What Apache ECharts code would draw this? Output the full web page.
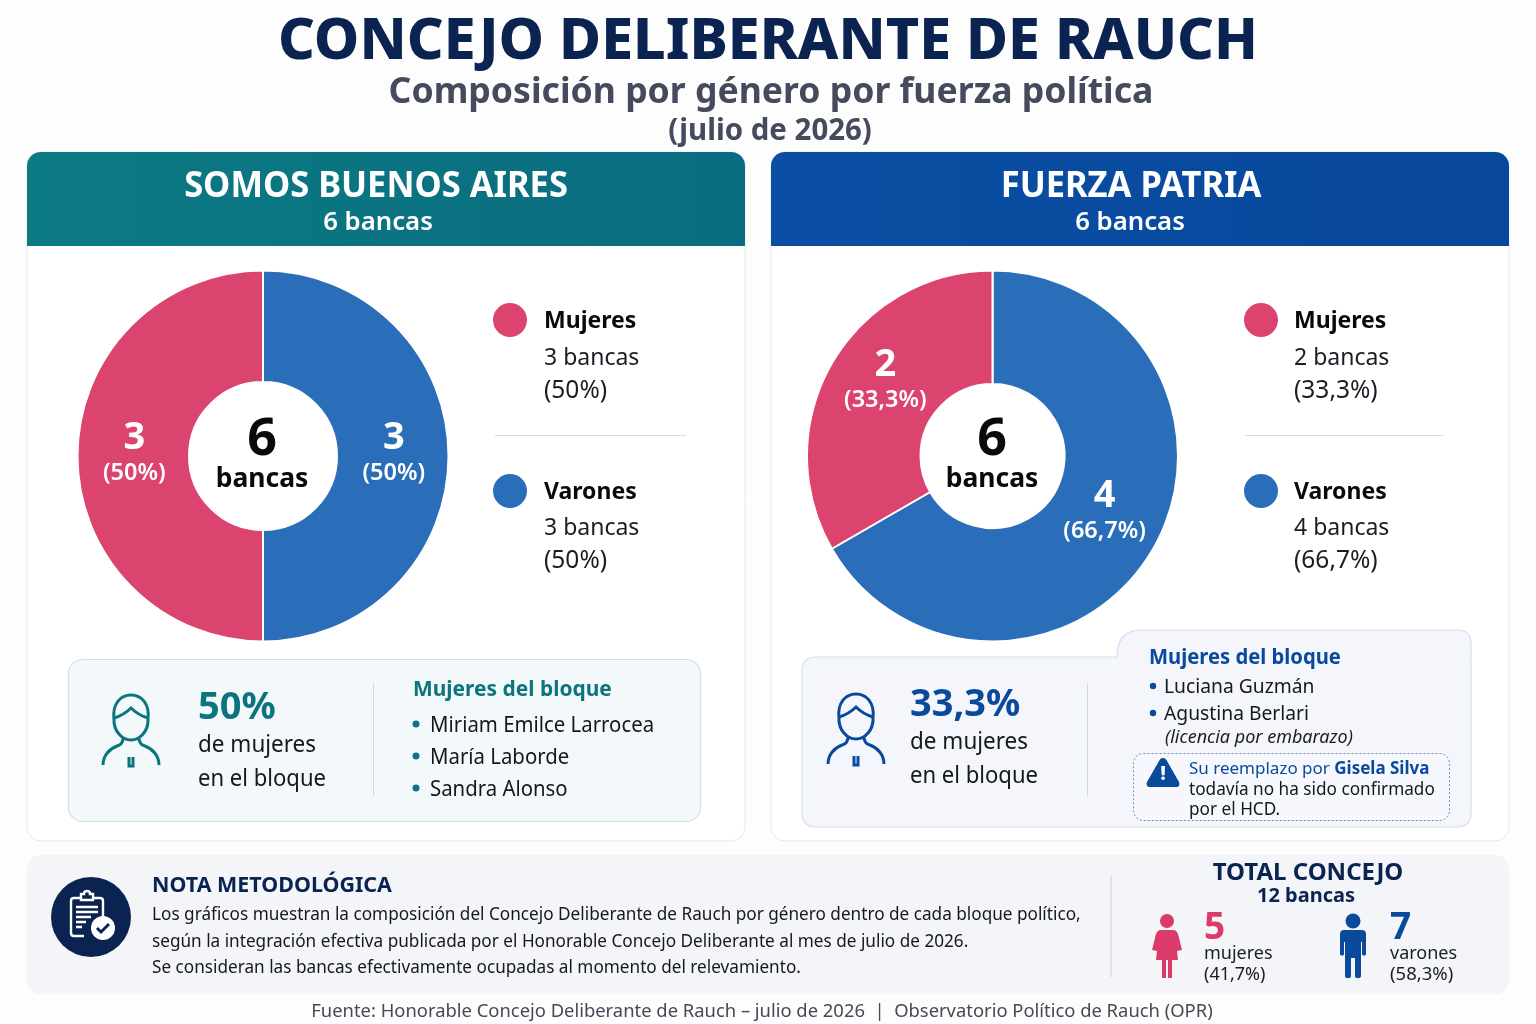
<!DOCTYPE html>
<html><head><meta charset="utf-8">
<style>html,body{margin:0;padding:0;background:#fdfdfe}#c{width:1536px;height:1024px}</style>
<script src="https://cdn.jsdelivr.net/npm/echarts@6/dist/echarts.min.js"></script>
</head><body><div id="c"></div>
<script>
var genders = ['Mujeres', 'Varones'];
var blockNames = ['SOMOS BUENOS AIRES', 'FUERZA PATRIA'];
var blockSeats = [6, 6];
var mujeresSeats = [3, 2];
var varonesSeats = [3, 4];
var mujeresPct = ['50%', '33,3%'];
var varonesPct = ['50%', '66,7%'];
var womenBlock1 = ['Miriam Emilce Larrocea', 'María Laborde', 'Sandra Alonso'];
var womenBlock2 = ['Luciana Guzmán', 'Agustina Berlari'];
var noteLines = [
 'Los gráficos muestran la composición del Concejo Deliberante de Rauch por género dentro de cada bloque político,',
 'según la integración efectiva publicada por el Honorable Concejo Deliberante al mes de julio de 2026.',
 'Se consideran las bancas efectivamente ocupadas al momento del relevamiento.'];
var totalMujeres = 5, totalVarones = 7, totalSeats = 12;
var totalMujeresPct = '41,7%', totalVaronesPct = '58,3%';

var RED='#DC4470', BLUE='#2A6DB8', TEAL='#0B747F', NAVY='#0A4A9C', DARK='#0B2350', INK='#14181f';
var FF='"Noto Sans", sans-serif';
var g=[];
function T(x,y,text,size,color,weight,align,sx,italic){
  g.push({type:'text',silent:true,z:20,x:x,y:y+size*0.08,scaleX:sx||1,scaleY:1,
    style:{x:0,y:0,text:text,fontSize:size,fontFamily:FF,fill:color||INK,fontWeight:weight||400,
      fontStyle:italic?'italic':'normal',textAlign:align||'left',textVerticalAlign:'middle'}});
}
function R(x,y,w,h,r,fill,stroke,lw,extra,z){
  var st={fill:fill,stroke:stroke||null,lineWidth:lw||0};
  if(extra)for(var k in extra)st[k]=extra[k];
  g.push({type:'rect',silent:true,z:z||1,shape:{x:x,y:y,width:w,height:h,r:r},style:st});
}
function C(x,y,r,fill,z){g.push({type:'circle',silent:true,z:z||10,shape:{cx:x,cy:y,r:r},style:{fill:fill}});}
function L(x1,y1,x2,y2,c){g.push({type:'line',silent:true,z:5,shape:{x1:x1,y1:y1,x2:x2,y2:y2},style:{stroke:c,lineWidth:1}});}
var pathCount=0;
function Raw(d,x,y,style,z){
  var name='iconPath'+(pathCount++);
  echarts.graphic.registerShape(name,echarts.graphic.extendPath(d,{}));
  g.push({type:name,silent:true,z:z||12,x:x,y:y,style:style});
}

// Title
T(768,38,'CONCEJO DELIBERANTE DE RAUCH',57.7,DARK,800,'center',0.995);
T(771,90,'Composición por género por fuerza política',36.3,'#454B5C',700,'center',0.98);
T(770,129,'(julio de 2026)',30,'#454B5C',700,'center',0.98);

// Panels
var panels=[{x:27,w:718,c:[{offset:0,color:'#0C7A82'},{offset:1,color:'#0A6C80'}],name:376},
            {x:771,w:738,c:[{offset:0,color:'#0A4FA3'},{offset:1,color:'#07479C'}],name:1131}];
panels.forEach(function(p,i){
  R(p.x,152,p.w,689,14,'#ffffff','#E3E8EE',1);
  g.push({type:'rect',silent:true,z:2,shape:{x:p.x,y:152,width:p.w,height:94,r:[14,14,0,0]},
    style:{fill:{type:'linear',x:0,y:0,x2:1,y2:0,colorStops:p.c}}});
  T(p.name,184,blockNames[i],35,'#fff',700,'center',0.985);
  T(p.name-(i?1:-2),221,blockSeats[i]+' bancas',26,'#fff',600,'center',0.99);
});

// Centres
[[262,blockSeats[0]],[992,blockSeats[1]]].forEach(function(c){
  T(c[0],436,String(c[1]),52,'#0a0a0a',700,'center');
  T(c[0],477,'bancas',26.5,'#0a0a0a',700,'center');
});

// Legends
[[510,544,495,686,0],[1261,1294,1245,1444,1]].forEach(function(a){
  var i=a[4];
  C(a[0],320,17,RED); C(a[0],491,17,BLUE);
  T(a[1],320,genders[0],23,'#0a0a0a',700);
  T(a[1],357,mujeresSeats[i]+' bancas',23,'#1a1d24');
  T(a[1],389,'('+mujeresPct[i]+')',24.5,'#1a1d24');
  L(a[2],435.5,a[3],435.5,'#D8DDE3');
  T(a[1],491,genders[1],23,'#0a0a0a',700);
  T(a[1],527,varonesSeats[i]+' bancas',23,'#1a1d24');
  T(a[1],559,'('+varonesPct[i]+')',24.5,'#1a1d24');
});

// Person outline icon
var PERSON='M-17,-10 C-19,-27 -10,-35 0,-35 C10,-35 19,-27 17,-10 M-17,-12 C-10,-14 -4,-18 0,-22 C4,-18 10,-14 17,-12 M-17,-12 C-18,2 -8,10 0,10 C8,10 18,2 17,-12 M-8,8 C-8,12 -10,15 -14,16 C-22,19 -28,26 -28,35 M8,8 C8,12 10,15 14,16 C22,19 28,26 28,35 M-2,27 L-2,36 L2,36 L2,27';

// Info box left
R(68.5,659.5,632,162,14,'#F3F8FA','#CFE2E8',1.2);
Raw(PERSON,131,730,{fill:null,stroke:TEAL,lineWidth:3});
T(198,705,mujeresPct[0],38,TEAL,700);
T(198,743,'de mujeres',24,INK,400,'left',0.937);
T(198,777,'en el bloque',24,INK,400,'left',0.92);
L(373.5,683,373.5,796,'#CFD9DE');
T(413,688,'Mujeres del bloque',22,TEAL,700,'left',0.952);
womenBlock1.forEach(function(n,i){
  var y=724+i*32; C(416,y,3.5,TEAL); T(430,y,n,22.5,INK,400,'left',0.905);
});

// Info box right
Raw('M14,27 L315,27 Q315,0 339,0 L655,0 Q669,0 669,14 L669,183 Q669,197 655,197 L14,197 Q0,197 0,183 L0,41 Q0,27 14,27 Z',802,630,{fill:'#F4F6FB',stroke:'#D3DFF0',lineWidth:1.2},1);
Raw(PERSON,856,729,{fill:null,stroke:NAVY,lineWidth:3});
T(910,702,mujeresPct[1],38,NAVY,700);
T(910,740,'de mujeres',24,INK,400,'left',0.937);
T(910,774,'en el bloque',24,INK,400,'left',0.92);
L(1087.5,683,1087.5,796,'#CFD9E6');
T(1149,656,'Mujeres del bloque',21.5,NAVY,700,'left',0.94);
womenBlock2.forEach(function(n,i){
  var y=686+i*27; C(1153,y,3.2,NAVY); T(1164,y,n,20.5,INK,400,'left',0.94);
});
T(1165,736,'(licencia por embarazo)',18,'#1a1d24',400,'left',1,true);
R(1133.5,753.5,316,67,10,'#F6F8FD','#6C88B5',1,{lineDash:[2,2]},3);
Raw('M0,-15 C2,-15 3,-14 4,-12 L16,9 C17,12 16,14 13,14 L-13,14 C-16,14 -17,12 -16,9 L-4,-12 C-3,-14 -2,-15 0,-15 Z',1163,773,{fill:NAVY});
T(1163,773,'!',20,'#fff',800,'center');
g.push({type:'text',silent:true,z:20,style:{x:1189,y:769,textVerticalAlign:'middle',
  text:'{a|Su reemplazo por }{b|Gisela Silva}',fontFamily:FF,
  rich:{a:{fontSize:17,fill:NAVY,fontFamily:FF},b:{fontSize:17,fontWeight:700,fill:NAVY,fontFamily:FF}}}});
T(1189,789,'todavía no ha sido confirmado',17.2,INK);
T(1189,809,'por el HCD.',17.2,INK);

// Footer panel
R(27,855,1482,139,14,'#F3F5F9');
C(91,917,40,DARK,5);
Raw('M-13,-19 L-6,-19 M6,-19 L13,-19 C15,-19 16,-18 16,-16 L16,3 M-3,19 L-13,19 C-15,19 -16,18 -16,16 L-16,-16 C-16,-18 -15,-19 -13,-19 M-6,-23 L-3,-23 C-3,-27 3,-27 3,-23 L6,-23 L6,-17 L-6,-17 Z M-11,-10 L11,-10 M-11,-5 L11,-5 M-11,0 L4,0 M-11,5 L-1,5 M-11,10 L-5,10',87,917,{fill:null,stroke:'#fff',lineWidth:2.4});
C(103,928,12,'#fff',13);
Raw('M-6,0 L-2,4 L6,-4',103,928,{fill:null,stroke:DARK,lineWidth:3},15);
T(152,884,'NOTA METODOLÓGICA',22,DARK,700,'left',0.975);
noteLines.forEach(function(s,i){T(152,[913,940,966][i],s,18,'#15181f',400,'left',0.954);});
L(1111,876,1111,977,'#C9CED8');
T(1308,871,'TOTAL CONCEJO',24,DARK,700,'center');
T(1306,895,totalSeats+' bancas',20,DARK,700,'center');

// Female pictogram
C(1167,921,7,'#DB3B6A');
Raw('M-6,-16 L6,-16 C9,-16 10,-14 11,-12 L15,4 L10,5 L11,14 L5,14 L5,32 L1,32 L1,14 L-1,14 L-1,32 L-5,32 L-5,14 L-11,14 L-10,5 L-15,4 L-11,-12 C-10,-14 -9,-16 -6,-16 Z',1167,946,{fill:'#DB3B6A'});
T(1204,925,String(totalMujeres),37,'#DB3B6A',700);
T(1204,952,'mujeres',18,'#1a1d24');
T(1204,973,'('+totalMujeresPct+')',18,'#1a1d24');
// Male pictogram
C(1353,921,7.5,NAVY);
Raw('M-9,-16 L9,-16 C12,-16 13,-14 13,-12 L13,8 C13,10 9,10 9,8 L9,-4 L8,-4 L8,30 C8,33 2,33 2,30 L2,12 L-2,12 L-2,30 C-2,33 -8,33 -8,30 L-8,-4 L-9,-4 L-9,8 C-9,10 -13,10 -13,8 L-13,-12 C-13,-14 -12,-16 -9,-16 Z',1353,946,{fill:NAVY});
T(1390,925,String(totalVarones),37,NAVY,700);
T(1390,952,'varones',18,'#1a1d24');
T(1390,973,'('+totalVaronesPct+')',18.5,'#1a1d24');

T(762,1010,'Fuente: Honorable Concejo Deliberante de Rauch – julio de 2026  |  Observatorio Político de Rauch (OPR)',18.4,'#444A55',400,'center');

// nudges of the in-slice labels, [x,y]: varones then mujeres
var labelNudges=[[[-2,-2],[4,-2]],[[-2,-10],[7,-9]]];
function pie(i,cx){
  return {type:'pie',silent:true,center:[cx,456],radius:[i?72:74,185.5],startAngle:90,clockwise:true,
    animation:false,z:6,
    emphasis:{disabled:true},labelLine:{show:false},
    itemStyle:{borderColor:'#fff',borderWidth:2},
    label:{show:true,position:'inside',
      rich:{n:{fontSize:38,fontWeight:700,color:'#fff',fontFamily:FF,lineHeight:38},
            p:{fontSize:23.5,fontWeight:600,color:'#fff',fontFamily:FF,lineHeight:32}}},
    data:[
      {name:genders[1],value:varonesSeats[i],itemStyle:{color:BLUE},
       label:{offset:labelNudges[i][0],formatter:'{n|'+varonesSeats[i]+'}\n{p|('+varonesPct[i]+')}'}},
      {name:genders[0],value:mujeresSeats[i],itemStyle:{color:RED},
       label:{offset:labelNudges[i][1],formatter:'{n|'+mujeresSeats[i]+'}\n{p|('+mujeresPct[i]+')}'}}
    ]};
}
var chart=echarts.init(document.getElementById('c'),null,{renderer:'canvas'});
chart.setOption({backgroundColor:'#fdfdfe',animation:false,
  graphic:{elements:g},
  series:[pie(0,263),pie(1,992.5)]});
</script></body></html>
